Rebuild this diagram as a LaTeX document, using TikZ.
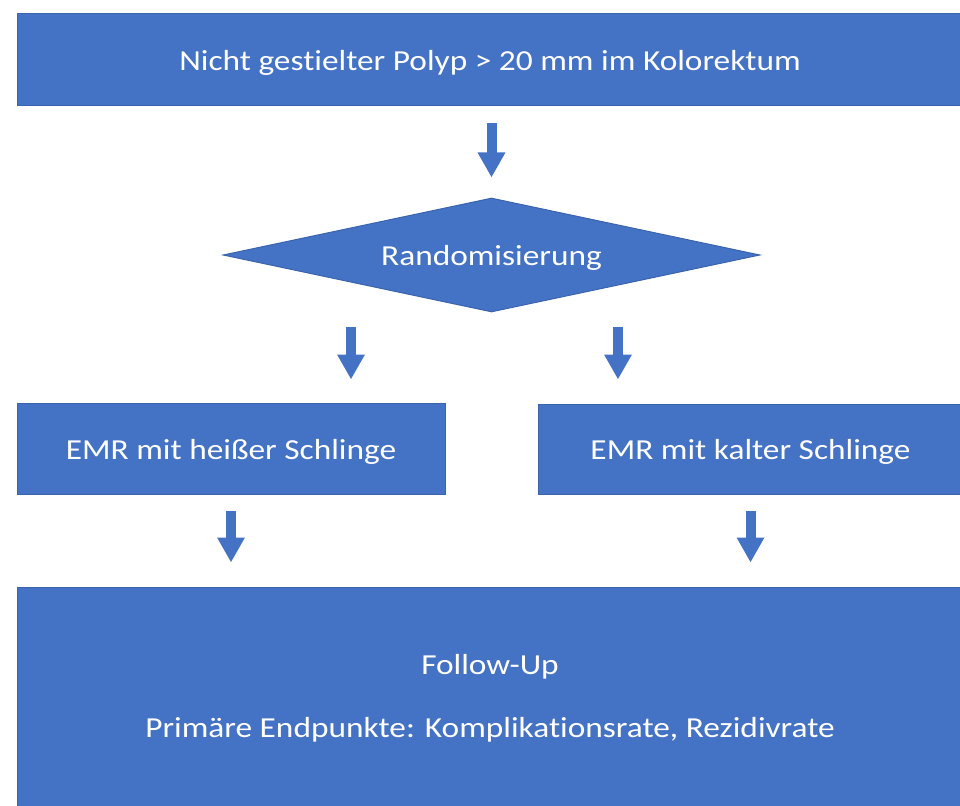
\documentclass[tikz,border=0pt]{standalone}
\usepackage{fontspec}
\setmainfont[FakeStretch=1.15,Ligatures=CommonOff]{Carlito}
\usetikzlibrary{shapes.geometric,arrows.meta,calc}
\definecolor{boxblue}{HTML}{4472C4}
\definecolor{edgeblue}{HTML}{3B64AE}
\tikzset{
  bluebox/.style={rectangle,fill=boxblue,draw=edgeblue,line width=1pt,text=white,inner sep=0pt,text height=21pt,text depth=0pt,font=\fontsize{29}{34}\selectfont},
  bluedia/.style={diamond,fill=boxblue,draw=edgeblue,line width=1pt,text=white,inner sep=0pt,text height=21pt,text depth=0pt,shape aspect=4.71,font=\fontsize{29}{34}\selectfont},
  blockarrow/.style={draw=boxblue,line width=10pt,-{Triangle[width=26pt,length=25pt]}}
}
\begin{document}
\begin{tikzpicture}[x=1pt,y=-1pt]
\useasboundingbox[fill=white] (0,0) rectangle (960,805);
\node[bluebox,minimum width=946pt,minimum height=92pt] (top) at (490,60) {Nicht gestielter Polyp > 20 mm im Kolorektum};
\node[bluedia,minimum width=537pt,minimum height=114pt] (dia) at (491.5,255) {Randomisierung};
\node[bluebox,minimum width=428pt,minimum height=91pt] (left) at (231,448.5) {EMR mit heißer Schlinge};
\node[bluebox,minimum width=425pt,minimum height=90pt] (right) at (750.5,449) {EMR mit kalter Schlinge};
\node[bluebox,text height={},text depth={},minimum width=946pt,minimum height=223pt,align=center] (bot) at (490,698.5) {Follow-Up\\[29pt]Primäre Endpunkte: Komplikationsrate, Rezidivrate};
\coordinate (a2l) at (351,327);
\coordinate (a2r) at (618,327);
\draw[blockarrow,shorten <=17pt,shorten >=20pt] (top.south -| dia.north) -- (dia.north);
\draw[blockarrow,shorten >=23pt] (a2l) -- (left.north -| a2l);
\draw[blockarrow,shorten >=24pt] (a2r) -- (right.north -| a2r);
\draw[blockarrow,shorten <=16pt,shorten >=24pt] (left.south) -- (bot.north -| left.south);
\draw[blockarrow,shorten <=16pt,shorten >=24pt] (right.south) -- (bot.north -| right.south);
\end{tikzpicture}
\end{document}
